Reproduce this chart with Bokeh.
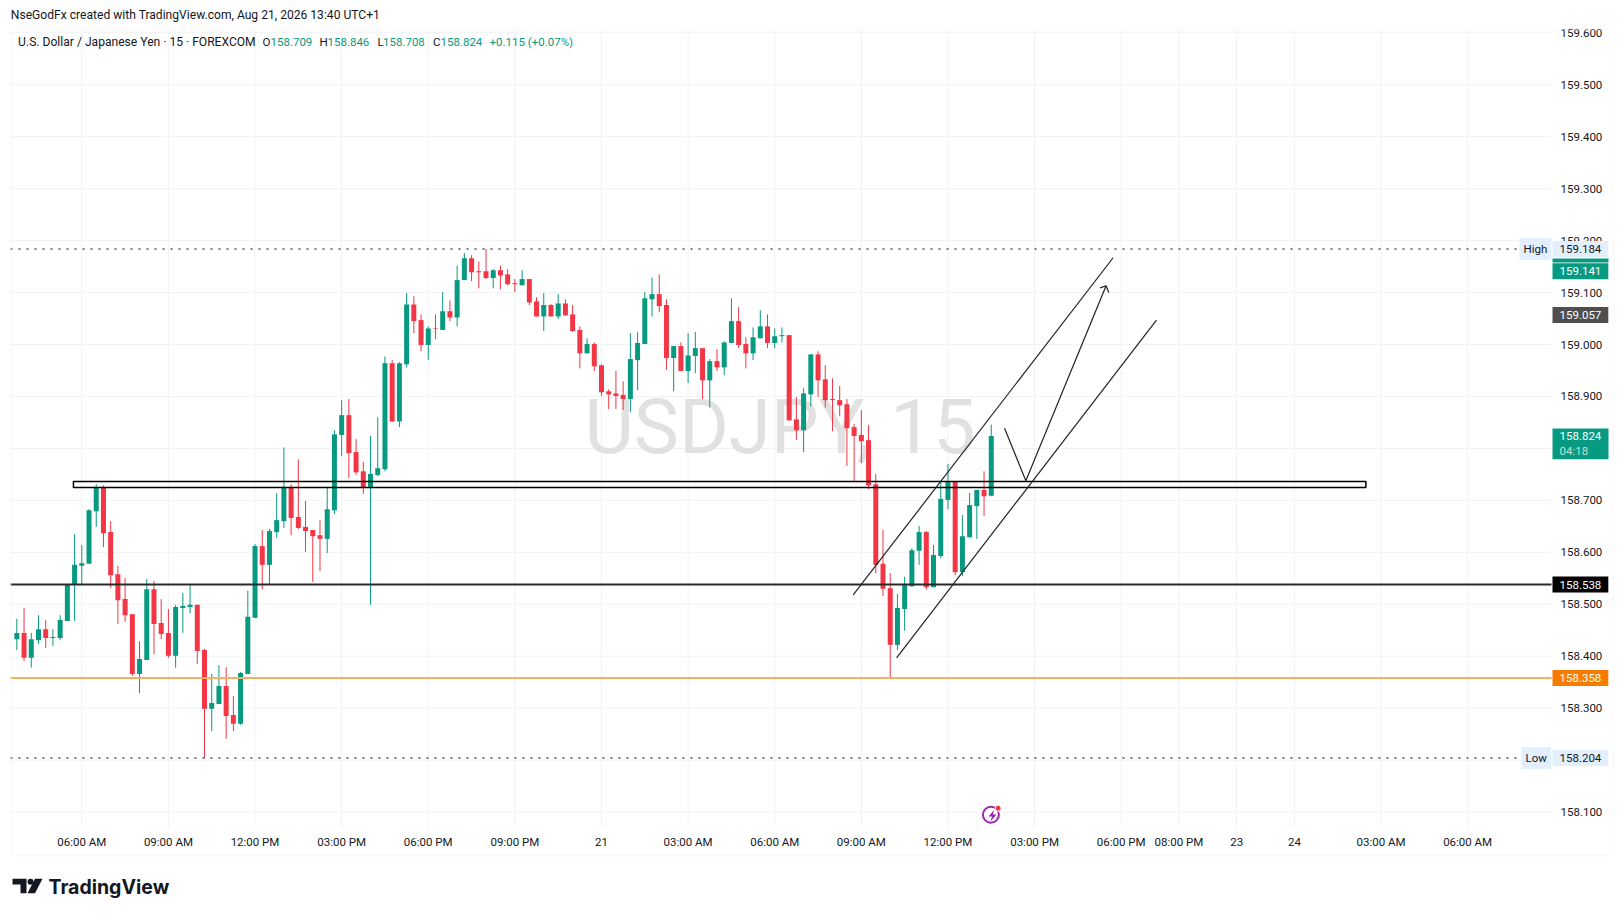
from bokeh.plotting import figure
from bokeh.embed import file_html
from bokeh.resources import INLINE
from bokeh.models import Label, FixedTicker, BoxAnnotation, PolyAnnotation, Range1d
from bokeh.core.properties import value
import numpy as np

bar_start = -9
opens = [158.433,158.445,158.397,158.431,158.452,158.435,158.435,158.468,158.537,
158.574,158.578,158.679,158.724,158.639,158.558,158.510,158.481,158.366,158.393,
158.529,158.464,158.445,158.401,158.493,158.495,158.499,158.412,158.299,158.308,
158.343,158.287,158.270,158.366,158.474,158.612,158.576,158.639,158.660,158.726,
158.668,158.649,158.643,158.633,158.626,158.681,158.826,158.864,158.793,158.756,
158.726,158.749,158.760,158.964,158.852,158.962,159.077,159.047,158.999,159.031,
159.028,159.064,159.052,159.124,159.166,159.141,159.141,159.128,159.143,159.135,
159.118,159.114,159.126,159.083,159.054,159.076,159.054,159.079,159.058,159.028,
158.983,159.001,158.960,158.910,158.906,158.903,158.895,158.970,159.001,159.087,
159.097,159.076,158.974,158.997,158.949,158.978,158.993,158.931,158.968,158.956,
159.003,159.045,159.001,158.983,159.012,159.035,159.003,159.016,159.018,158.856,
158.835,158.904,158.981,158.933,158.895,158.893,158.885,158.841,158.826,158.816,
158.731,158.578,158.531,158.422,158.491,158.535,158.603,158.639,158.533,158.593,
158.701,158.737,158.562,158.629,158.689,158.720,158.709]
highs = [158.472,158.493,158.445,158.479,158.470,158.452,158.479,158.539,158.635,
158.614,158.683,158.731,158.729,158.660,158.574,158.551,158.481,158.429,158.549,
158.545,158.510,158.491,158.499,158.522,158.539,158.499,158.414,158.366,158.383,
158.379,158.324,158.370,158.526,158.616,158.643,158.645,158.714,158.802,158.731,
158.779,158.699,158.643,158.662,158.726,158.835,158.893,158.895,158.818,158.774,
158.824,158.860,158.977,158.970,158.966,159.099,159.093,159.058,159.035,159.058,
159.101,159.085,159.152,159.176,159.172,159.160,159.184,159.145,159.152,159.145,
159.126,159.143,159.126,159.091,159.099,159.078,159.097,159.087,159.076,159.035,
159.012,159.004,158.962,158.914,158.949,158.929,159.022,159.024,159.101,159.129,
159.135,159.087,158.997,159.004,159.022,159.024,158.993,158.972,158.991,159.006,
159.089,159.072,159.014,159.033,159.066,159.058,159.031,159.033,159.018,158.899,
158.916,158.981,158.987,158.960,158.935,158.920,158.895,158.847,158.874,158.845,
158.751,158.643,158.560,158.520,158.553,158.608,158.651,158.641,158.614,158.737,
158.770,158.737,158.672,158.714,158.720,158.756,158.846]
lows = [158.412,158.391,158.378,158.424,158.416,158.420,158.431,158.468,158.468,
158.537,158.578,158.649,158.610,158.531,158.462,158.466,158.362,158.329,158.393,
158.404,158.433,158.397,158.378,158.445,158.483,158.385,158.204,158.256,158.308,
158.241,158.256,158.268,158.366,158.474,158.529,158.539,158.628,158.647,158.633,
158.645,158.601,158.543,158.564,158.599,158.674,158.785,158.743,158.749,158.712,
158.499,158.747,158.756,158.851,158.841,158.956,159.022,158.987,158.970,159.010,
159.028,159.045,159.035,159.124,159.122,159.108,159.126,159.108,159.106,159.114,
159.101,159.114,159.076,159.054,159.026,159.054,159.049,159.056,159.024,158.954,
158.983,158.949,158.901,158.876,158.876,158.874,158.870,158.912,159.001,159.054,
159.062,158.951,158.910,158.949,158.926,158.945,158.895,158.879,158.949,158.941,
159.003,158.993,158.954,158.970,159.012,158.993,158.993,159.004,158.854,158.816,
158.793,158.881,158.899,158.879,158.833,158.862,158.766,158.737,158.772,158.722,
158.560,158.516,158.358,158.412,158.449,158.533,158.576,158.528,158.533,158.589,
158.683,158.556,158.554,158.629,158.626,158.670,158.708]
closes = [158.445,158.397,158.433,158.452,158.435,158.437,158.470,158.539,158.576,
158.579,158.681,158.724,158.637,158.556,158.508,158.479,158.366,158.395,158.529,
158.462,158.443,158.401,158.495,158.497,158.499,158.410,158.299,158.310,158.343,
158.285,158.270,158.368,158.476,158.612,158.576,158.641,158.662,158.726,158.666,
158.647,158.641,158.631,158.626,158.683,158.827,158.864,158.791,158.754,158.726,
158.751,158.762,158.964,158.852,158.964,159.077,159.045,158.999,159.031,159.030,
159.064,159.052,159.124,159.166,159.139,159.139,159.128,159.143,159.133,159.116,
159.116,159.126,159.081,159.054,159.076,159.054,159.079,159.056,159.026,158.983,
159.001,158.958,158.908,158.904,158.901,158.895,158.972,159.003,159.089,159.097,
159.074,158.974,158.997,158.949,158.979,158.993,158.931,158.968,158.956,159.004,
159.045,158.999,158.983,159.014,159.035,159.003,159.016,159.018,158.854,158.835,
158.906,158.981,158.931,158.893,158.893,158.883,158.839,158.824,158.814,158.729,
158.576,158.530,158.422,158.493,158.537,158.604,158.639,158.533,158.595,158.703,
158.737,158.562,158.631,158.691,158.720,158.708,158.824]

time_tick_bars = [0,12,24,36,48,60,72,84,96,108,120,132,144,152,160,168,180,192]
time_tick_labels = ["06:00 AM","09:00 AM","12:00 PM","03:00 PM","06:00 PM","09:00 PM","21",
                    "03:00 AM","06:00 AM","09:00 AM","12:00 PM","03:00 PM","06:00 PM","08:00 PM",
                    "23","24","03:00 AM","06:00 AM"]
price_ticks = [158.1,158.2,158.3,158.4,158.5,158.6,158.7,158.8,158.9,159.0,159.1,159.2,159.3,159.4,159.5,159.6]

support_level = 158.538
orange_level = 158.358
high_level = 159.184
low_level = 158.204
zone_bars = [-1.16, 177.9]
zone_prices = [158.725, 158.7365]
channel_upper_bars = [106.87, 142.88]
channel_upper_prices = [158.518, 159.167]
channel_lower_bars = [112.88, 148.89]
channel_lower_prices = [158.397, 159.047]
path_bars = [127.84, 130.79, 141.91]
path_prices = [158.839, 158.738, 159.113]
head_bars = [141.08, 141.91, 142.28]
head_prices = [159.109, 159.113, 159.100]

FONT = "Roboto"
FS = "11.5px"
FS_T = "12.1px"
TXT = "#131722"
GREEN = "#089981"
RED = "#f23645"
GRID = "#f1f2f4"
INK = "#222222"

W, H = 1620, 912
F_L, F_R, F_T, F_B = 10, 1551, 29, 827
px_per_bar, bar0_px = 7.218, 81.3
px_per_price, p700_px = 519.6, 499.9
bar_at = lambda X: (X - bar0_px) / px_per_bar
price_at = lambda Y: 158.7 + (p700_px - Y) / px_per_price

p = figure(width=W, height=H, output_backend="svg", toolbar_location=None,
           x_range=Range1d(bar_at(0), bar_at(W)), y_range=Range1d(price_at(H), price_at(0)),
           y_axis_location="right", min_border=0,
           background_fill_color="white", border_fill_color="white")
p.outline_line_color = None
p.grid.visible = False

xa = p.xaxis[0]
xa.fixed_location = price_at(F_B)
xa.ticker = FixedTicker(ticks=time_tick_bars)
xa.major_label_overrides = dict(zip(time_tick_bars, time_tick_labels))
ya = p.yaxis[0]
ya.fixed_location = bar_at(F_R)
ya.ticker = FixedTicker(ticks=price_ticks)
ya.major_label_overrides = {t: f"{t:.3f}" for t in price_ticks}
for a in (xa, ya):
    a.axis_line_color = None
    a.major_tick_line_color = None
    a.minor_tick_line_color = None
    a.major_tick_in = 0
    a.major_tick_out = 0
    a.major_label_text_font = FONT
    a.major_label_text_font_size = FS
    a.major_label_text_color = TXT
xa.major_label_standoff = 7
ya.major_label_standoff = 9

# grid of the pane
p.segment(time_tick_bars, price_at(F_B), time_tick_bars, price_at(F_T), line_color=GRID, line_width=1)
p.segment(bar_at(F_L), price_ticks, bar_at(F_R), price_ticks, line_color=GRID, line_width=1)

# watermark under the candles
p.text(x=[96.75], y=[158.841], text=["USDJPY, 15"], text_font=value(FONT), text_font_size="76px",
       text_color="#e1e1e1", text_align="center", text_baseline="middle")

x = np.arange(bar_start, bar_start+len(opens))
o, h, l, c = map(np.array, (opens, highs, lows, closes))
colors = np.where(c >= o, GREEN, RED).tolist()
p.segment(x, h, x, l, line_color=colors, line_width=1)
p.vbar(x=x, top=np.maximum(o, c), bottom=np.minimum(o, c), width=5/px_per_bar, fill_color=colors, line_color=None)

# drawings
p.segment(bar_at(F_L), [support_level], bar_at(F_R), [support_level], line_color="#2a2a2a", line_width=2)
p.segment(bar_at(F_L), [orange_level], bar_at(F_R), [orange_level], line_color="#f9ae62", line_width=2)
p.segment(bar_at(F_L), [high_level, low_level], bar_at(1519), [high_level, low_level],
          line_color="#787b86", line_width=2, line_dash="2 6")
p.quad(left=zone_bars[0], right=zone_bars[1], bottom=zone_prices[0], top=zone_prices[1],
       fill_color=None, line_color="black", line_width=1.5)
p.line(channel_upper_bars, channel_upper_prices, line_color=INK, line_width=1.2)
p.line(channel_lower_bars, channel_lower_prices, line_color=INK, line_width=1.2)
p.line(path_bars, path_prices, line_color=INK, line_width=1.2)
p.line(head_bars, head_prices, line_color=INK, line_width=1.2)

fy = lambda Y: H - Y

def text(X, Y, s, color=TXT, size=FS):
    p.add_layout(Label(x=X, y=fy(Y), x_units="screen", y_units="screen", text=s, text_color=color,
                       text_font=FONT, text_font_size=size, text_align="left", text_baseline="middle"))

text(10.3, 14.5, "NseGodFx created with TradingView.com, Aug 21, 2026 13:40 UTC+1", size=FS_T)
text(17.6, 41.4, "U.S. Dollar / Japanese Yen · 15 · FOREXCOM", size=FS_T)
for X, s, col in [(262,"O",TXT),(270,"158.709",GREEN),(319,"H",TXT),(327,"158.846",GREEN),
                  (377,"L",TXT),(382.5,"158.708",GREEN),(432.6,"C",TXT),(440,"158.824",GREEN),
                  (489,"+0.115 (+0.07%)",GREEN)]:
    text(X, 41.4, s, col)

# price tags on the scale
def tag(price, s, bg, fg="white", X=1552, pad=(7, 4)):
    p.add_layout(Label(x=X, y=price, x_units="screen", y_units="data", text=s, text_color=fg,
                       text_font=FONT, text_font_size=FS, text_align="left", text_baseline="middle",
                       background_fill_color=bg, padding=pad))

def box(L, R, T, B, **kw):
    p.add_layout(BoxAnnotation(left=L, right=R, top=fy(T), bottom=fy(B), left_units="screen",
                               right_units="screen", top_units="screen", bottom_units="screen", **kw))

box(1552, 1608, 258, 262, fill_color=GREEN, fill_alpha=1, line_color=None)
tag(high_level, "159.184", "#e3effd", TXT)
tag(159.141, "159.141", GREEN)
tag(159.057, "159.057", "#4f4f4f")
box(1552, 1608, 428, 458.7, fill_color=GREEN, fill_alpha=1, line_color=None)
tag(158.824, "158.824", None)
tag(158.795, "04:18", None, "#b8e4da")
tag(support_level, "158.538", "#000000")
tag(orange_level, "158.358", "#f57c00")
tag(low_level, "158.204", "#e3effd", TXT)
tag(high_level, "High", "#e3effd", TXT, X=1519, pad=(4, 4))
tag(low_level, "Low", "#e3effd", TXT, X=1521, pad=(4, 4))

# outer border of the chart
box(10.5, 1613, 29, 855, fill_alpha=0, line_color="#f0f1f3", line_width=2)

# event icon
ev_bar, ev_price = 125.95, 158.095
p.scatter([ev_bar], [ev_price], size=16, marker="circle", fill_color="white", line_color="#9c27b0", line_width=2)
p.scatter([ev_bar+1.0], [ev_price+0.0125], size=6, marker="circle", fill_color="#f23645", line_color="white")
def poly(pts, color):
    p.add_layout(PolyAnnotation(xs=[a for a, b in pts], ys=[fy(b) for a, b in pts],
                                xs_units="screen", ys_units="screen", fill_color=color, fill_alpha=1,
                                line_color=None))
poly([(993.5,809.5),(988,816),(991.5,816),(990,821),(996,814),(992.5,814)], "#9c27b0")

# logo
poly([(12,878.3),(26,878.3),(26,892.7),(20,892.7),(20,884),(12,884)], "#131722")
poly([(34.5,878.3),(42,878.3),(34.5,892.7),(27,892.7)], "#131722")
p.scatter([bar_at(30)], [price_at(881.3)], size=6, marker="circle", fill_color="#131722", line_color=None)
p.add_layout(Label(x=48, y=fy(886), x_units="screen", y_units="screen", text="TradingView",
                   text_font="Inter", text_font_size="19.5px", text_font_style="bold", text_color="#131722",
                   text_baseline="middle"))

open("out.html", "w").write(file_html(p, INLINE))
